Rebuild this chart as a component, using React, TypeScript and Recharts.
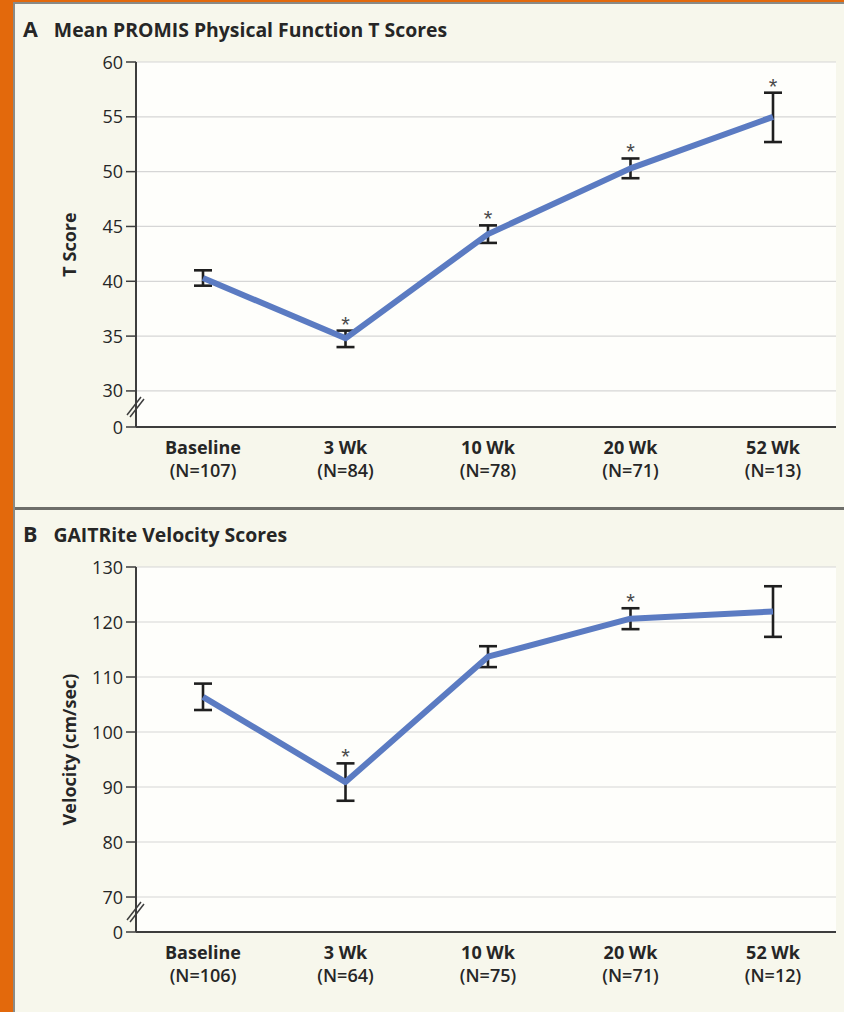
import React from "react";
import { CartesianGrid, ErrorBar, Line, LineChart, XAxis, YAxis } from "recharts";

const VISITS = ["Baseline", "3 Wk", "10 Wk", "20 Wk", "52 Wk"];

// panel A — PROMIS physical function T score
const PROMIS_N = [107, 84, 78, 71, 13];
const PROMIS_MEAN = [40.3, 34.8, 44.3, 50.3, 55.0];
const PROMIS_ERR: Array<[number, number]> = [
  [0.7, 0.7],
  [0.8, 0.7],
  [0.8, 0.8],
  [0.9, 0.9],
  [2.3, 2.2],
];
const PROMIS_SIG = [false, true, true, true, true];
const PROMIS_TICKS = [30, 35, 40, 45, 50, 55, 60];

// panel B — GAITRite velocity (cm/sec)
const GAIT_N = [106, 64, 75, 71, 12];
const GAIT_MEAN = [106.4, 90.9, 113.7, 120.6, 121.9];
const GAIT_ERR: Array<[number, number]> = [
  [2.4, 2.4],
  [3.4, 3.4],
  [1.9, 1.9],
  [1.9, 1.9],
  [4.6, 4.6],
];
const GAIT_SIG = [false, true, false, true, false];
const GAIT_TICKS = [70, 80, 90, 100, 110, 120, 130];

const FONT = "'Open Sans', 'Noto Sans', sans-serif";
const INK = "#262626";
const AXIS = "#3d3d3d";
const LINE_BLUE = "#5b7bc2";
const BG = "#f7f7ec";
const PLOT_BG = "#fefefb";

const TICK_SIZE = 10;
const TICK_MARGIN = 3;

function buildRows(n: number[], mean: number[], err: Array<[number, number]>, sig: boolean[]) {
  return VISITS.map((v, i) => ({
    visit: v,
    n: n[i],
    mean: mean[i],
    err: err[i],
    top: mean[i] + err[i][1],
    sig: sig[i],
  }));
}

function XTick(props: any) {
  const { x, y, payload, nList } = props;
  const i = VISITS.indexOf(payload.value);
  return (
    <g transform={`translate(${x},${y})`}>
      <text textAnchor="middle" fontFamily={FONT} fontSize={18} fill={INK}>
        <tspan x={0} dy={19} fontWeight={700}>
          {payload.value}
        </tspan>
        <tspan x={0} dy={23} fontWeight={600}>
          {`(N=${nList[i]})`}
        </tspan>
      </text>
    </g>
  );
}

function YTick(props: any) {
  const { x, y, payload, floor } = props;
  const isBreak = payload.value === floor;
  const axisX = x + TICK_SIZE + TICK_MARGIN;
  return (
    <g>
      <text
        x={x}
        y={y}
        dy={6.5}
        textAnchor="end"
        fontFamily={FONT}
        fontSize={18}
        fill={INK}
      >
        {isBreak ? "0" : payload.value}
      </text>
      {isBreak && (
        <g stroke={AXIS} strokeWidth={1.5}>
          <line x1={axisX - 9} y1={y - 12} x2={axisX + 5} y2={y - 30} />
          <line x1={axisX - 6} y1={y - 10} x2={axisX + 8} y2={y - 28} />
        </g>
      )}
    </g>
  );
}

function starLabel(sig: boolean[]) {
  return (p: any) => {
    if (!sig[p.index]) return null;
    return (
      <text
        key={`s${p.index}`}
        x={p.x}
        y={p.y + 1}
        textAnchor="middle"
        fontFamily="'Liberation Sans', sans-serif"
        fontSize={22}
        fill="#4a4a4a"
      >
        *
      </text>
    );
  };
}

function Panel({
  letter,
  title,
  yLabel,
  rows,
  nList,
  sig,
  ticks,
  floor,
  top,
  height,
}: {
  letter: string;
  title: string;
  yLabel: string;
  rows: any[];
  nList: number[];
  sig: boolean[];
  ticks: number[];
  floor: number;
  top: number;
  height: number;
}) {
  return (
    <div style={{ position: "absolute", left: 0, top, width: 844, height: height + 40 }}>
      <div
        style={{
          position: "absolute",
          left: 23,
          top: 17,
          fontFamily: FONT,
          fontWeight: 700,
          fontSize: 19.4,
          color: INK,
          whiteSpace: "nowrap",
          lineHeight: "24px",
        }}
      >
        <span style={{ fontSize: 21.5 }}>{letter}</span>
        <span style={{ marginLeft: 16 }}>{title}</span>
      </div>
      <div style={{ position: "absolute", left: 0, top: 40 }}>
        <LineChart
          width={844}
          height={height}
          data={rows}
          margin={{ top: 22, right: 8, bottom: 14, left: 76 }}
        >
          <CartesianGrid
            vertical={false}
            stroke="#d6d6d6"
            strokeWidth={1.2}
            fill={PLOT_BG}
          />
          <XAxis
            dataKey="visit"
            height={height - 22 - 14 - 365}
            padding={{ left: 67, right: 63 }}
            axisLine={{ stroke: AXIS, strokeWidth: 2 }}
            tickLine={false}
            interval={0}
            tick={<XTick nList={nList} />}
          />
          <YAxis
            width={60}
            domain={[floor, ticks[ticks.length - 1]]}
            ticks={[floor, ...ticks]}
            allowDataOverflow
            axisLine={{ stroke: AXIS, strokeWidth: 2 }}
            tickLine={{ stroke: AXIS, strokeWidth: 1.5 }}
            tickSize={TICK_SIZE}
            tickMargin={TICK_MARGIN}
            tick={<YTick floor={floor} />}
            label={{
              value: yLabel,
              angle: -90,
              position: "insideLeft",
              offset: -6,
              style: {
                fontFamily: FONT,
                fontWeight: 700,
                fontSize: 18,
                fill: INK,
                textAnchor: "middle",
              },
            }}
          />
          <Line
            dataKey="mean"
            stroke={LINE_BLUE}
            strokeWidth={6}
            strokeLinejoin="round"
            dot={false}
            activeDot={false}
            isAnimationActive={false}
          >
            <ErrorBar
              dataKey="err"
              direction="y"
              width={9}
              stroke="#1f1f1f"
              strokeWidth={2.6}
              isAnimationActive={false}
            />
          </Line>
          <Line
            dataKey="top"
            stroke="none"
            dot={false}
            activeDot={false}
            legendType="none"
            isAnimationActive={false}
            label={starLabel(sig)}
          />
        </LineChart>
      </div>
    </div>
  );
}

export default function App() {
  const promisRows = buildRows(PROMIS_N, PROMIS_MEAN, PROMIS_ERR, PROMIS_SIG);
  const gaitRows = buildRows(GAIT_N, GAIT_MEAN, GAIT_ERR, GAIT_SIG);
  return (
    <div
      style={{
        position: "relative",
        width: 844,
        height: 1012,
        background: "#e3690c",
        overflow: "hidden",
      }}
    >
      <style>{"body{margin:0}"}</style>
      <div
        style={{
          position: "absolute",
          left: 13,
          top: 2,
          right: 0,
          bottom: 0,
          background: BG,
          borderLeft: "2px solid #8a8a86",
          borderTop: "2px solid #8a8a86",
        }}
      />
      <Panel
        letter="A"
        title="Mean PROMIS Physical Function T Scores"
        yLabel="T Score"
        rows={promisRows}
        nList={PROMIS_N}
        sig={PROMIS_SIG}
        ticks={PROMIS_TICKS}
        floor={26.71}
        top={0}
        height={460}
      />
      <div
        style={{
          position: "absolute",
          left: 15,
          right: 0,
          top: 507,
          height: 3,
          background: "#6e6e6a",
        }}
      />
      <Panel
        letter="B"
        title="GAITRite Velocity Scores"
        yLabel="Velocity (cm/sec)"
        rows={gaitRows}
        nList={GAIT_N}
        sig={GAIT_SIG}
        ticks={GAIT_TICKS}
        floor={63.64}
        top={505}
        height={467}
      />
    </div>
  );
}
